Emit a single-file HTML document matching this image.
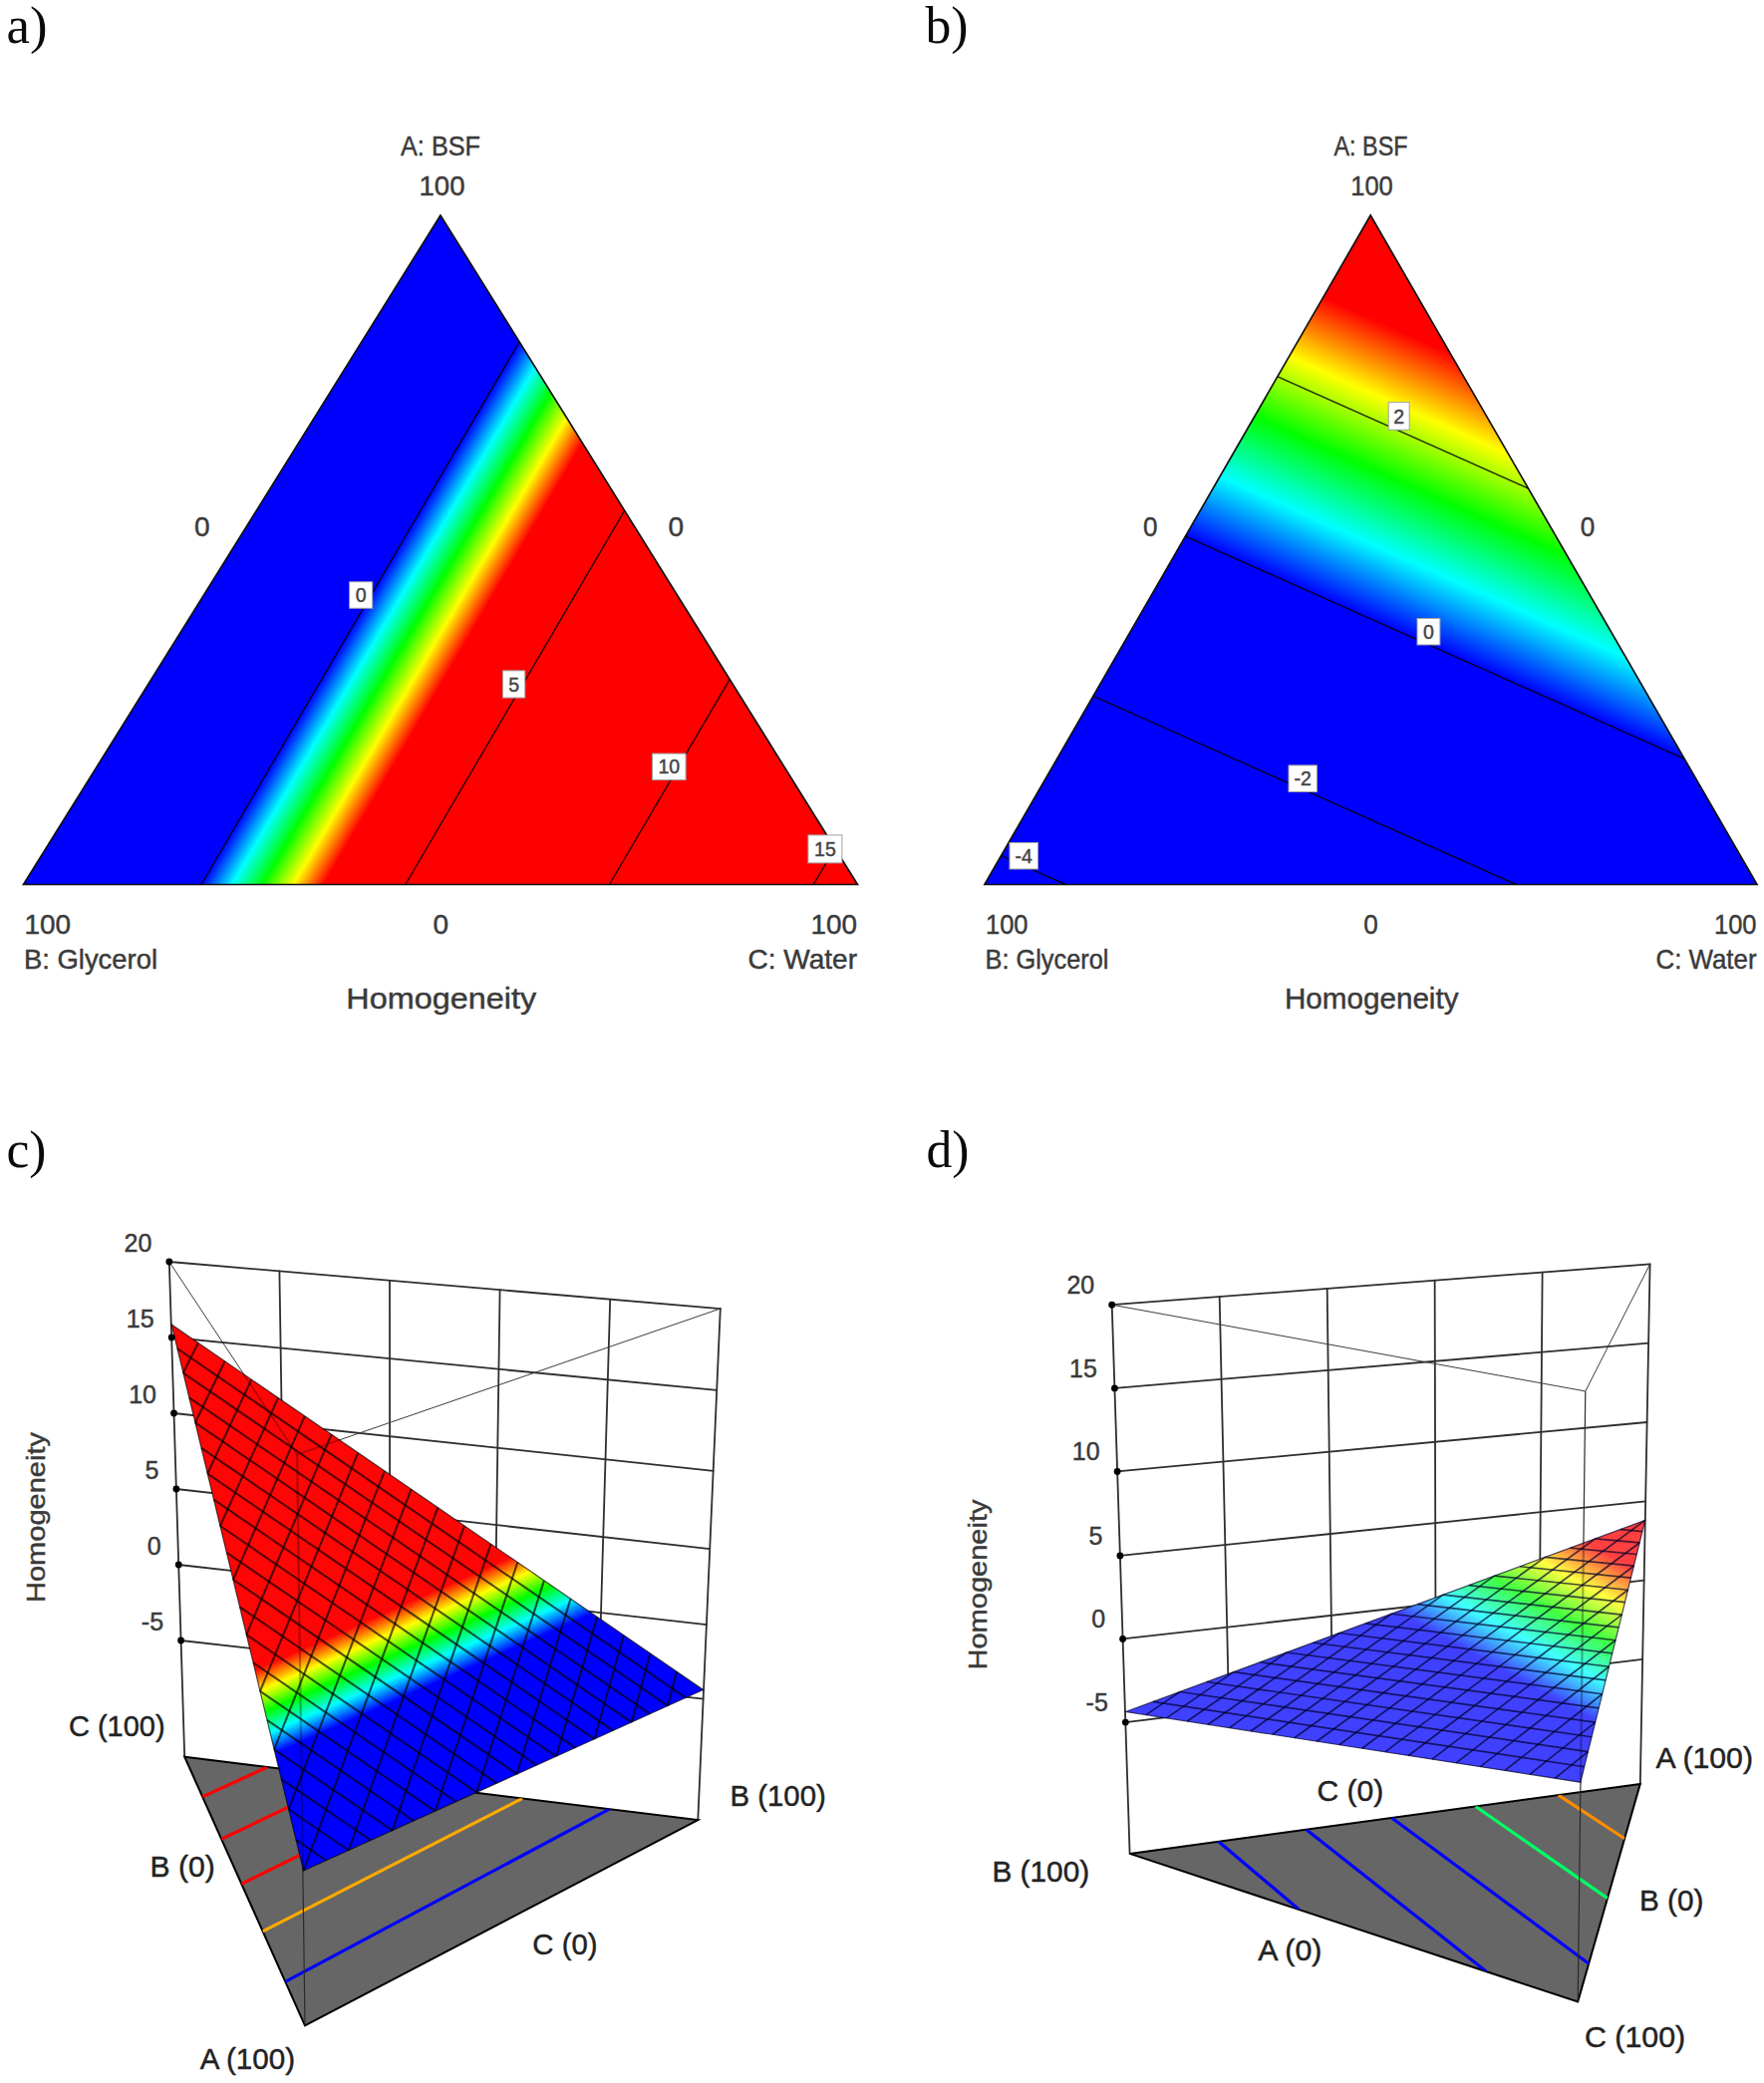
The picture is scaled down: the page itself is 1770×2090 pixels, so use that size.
<!DOCTYPE html>
<html lang="en"><head><meta charset="utf-8"><title>Homogeneity response surfaces</title>
<style>html,body{margin:0;padding:0;background:#fff}svg{display:block}</style></head><body>
<svg width="1770" height="2090" viewBox="0 0 1770 2090" role="img" aria-label="Homogeneity contour and 3D surface plots">
<rect width="1770" height="2090" fill="#fff"/>
<text x="6.5" y="43" font-size="52" text-anchor="start" fill="#0a0a0a" font-family='"Liberation Serif", "Times New Roman", serif' textLength="41" lengthAdjust="spacingAndGlyphs">a)</text>
<text x="928.5" y="43" font-size="52" text-anchor="start" fill="#0a0a0a" font-family='"Liberation Serif", "Times New Roman", serif' textLength="43" lengthAdjust="spacingAndGlyphs">b)</text>
<text x="6.5" y="1170.5" font-size="52" text-anchor="start" fill="#0a0a0a" font-family='"Liberation Serif", "Times New Roman", serif' textLength="40" lengthAdjust="spacingAndGlyphs">c)</text>
<text x="929.5" y="1170.5" font-size="52" text-anchor="start" fill="#0a0a0a" font-family='"Liberation Serif", "Times New Roman", serif' textLength="43" lengthAdjust="spacingAndGlyphs">d)</text>
<defs>
<linearGradient id="ag" gradientUnits="userSpaceOnUse" x1="361.02" y1="616.21" x2="452.47" y2="669.8">
<stop offset="0" stop-color="#0000ff"/>
<stop offset="0.25" stop-color="#00ffff"/>
<stop offset="0.5" stop-color="#00ff00"/>
<stop offset="0.75" stop-color="#ffff00"/>
<stop offset="1" stop-color="#ff0000"/>
</linearGradient>
<clipPath id="ac"><polygon points="442,216 23.5,887.5 860.5,887.5"/></clipPath>
</defs>
<polygon points="442,216 23.5,887.5 860.5,887.5" fill="url(#ag)" stroke="#111" stroke-width="1.7" stroke-linejoin="miter"/>
<g clip-path="url(#ac)" stroke="#000" stroke-opacity="0.85" stroke-width="1.4" fill="none">
<line x1="202.04" y1="887.5" x2="521.14" y2="342.99"/>
<line x1="406.78" y1="887.5" x2="626.66" y2="512.3"/>
<line x1="611.53" y1="887.5" x2="732.19" y2="681.61"/>
<line x1="816.27" y1="887.5" x2="837.71" y2="850.93"/>
</g>
<rect x="350.6" y="583.8" width="23.1" height="26.5" fill="#fff" stroke="#a0a0a0" stroke-width="1"/>
<text x="362.15" y="604.05" font-size="19.5" text-anchor="middle" fill="#444" stroke="#444" stroke-width="0.45" font-family='"Liberation Sans", Arial, sans-serif'>0</text>
<rect x="504.4" y="672.9" width="22.4" height="27.2" fill="#fff" stroke="#a0a0a0" stroke-width="1"/>
<text x="515.6" y="693.5" font-size="19.5" text-anchor="middle" fill="#444" stroke="#444" stroke-width="0.45" font-family='"Liberation Sans", Arial, sans-serif'>5</text>
<rect x="654.6" y="756.1" width="33.5" height="26.5" fill="#fff" stroke="#a0a0a0" stroke-width="1"/>
<text x="671.35" y="776.35" font-size="19.5" text-anchor="middle" fill="#444" stroke="#444" stroke-width="0.45" font-family='"Liberation Sans", Arial, sans-serif'>10</text>
<rect x="810.9" y="837.9" width="34" height="28" fill="#fff" stroke="#a0a0a0" stroke-width="1"/>
<text x="827.9" y="858.9" font-size="19.5" text-anchor="middle" fill="#444" stroke="#444" stroke-width="0.45" font-family='"Liberation Sans", Arial, sans-serif'>15</text>
<text x="442" y="156" font-size="28" text-anchor="middle" fill="#3a3a3a" stroke="#3a3a3a" stroke-width="0.45" font-family='"Liberation Sans", Arial, sans-serif' textLength="80" lengthAdjust="spacingAndGlyphs">A: BSF</text>
<text x="443.5" y="196" font-size="28" text-anchor="middle" fill="#3a3a3a" stroke="#3a3a3a" stroke-width="0.45" font-family='"Liberation Sans", Arial, sans-serif' textLength="46" lengthAdjust="spacingAndGlyphs">100</text>
<text x="202.7" y="538.4" font-size="28" text-anchor="middle" fill="#3a3a3a" stroke="#3a3a3a" stroke-width="0.45" font-family='"Liberation Sans", Arial, sans-serif'>0</text>
<text x="678.4" y="538.4" font-size="28" text-anchor="middle" fill="#3a3a3a" stroke="#3a3a3a" stroke-width="0.45" font-family='"Liberation Sans", Arial, sans-serif'>0</text>
<text x="24.5" y="936.5" font-size="28" text-anchor="start" fill="#3a3a3a" stroke="#3a3a3a" stroke-width="0.45" font-family='"Liberation Sans", Arial, sans-serif' textLength="46.5" lengthAdjust="spacingAndGlyphs">100</text>
<text x="24" y="972" font-size="28" text-anchor="start" fill="#3a3a3a" stroke="#3a3a3a" stroke-width="0.45" font-family='"Liberation Sans", Arial, sans-serif' textLength="134" lengthAdjust="spacingAndGlyphs">B: Glycerol</text>
<text x="442.3" y="936.5" font-size="28" text-anchor="middle" fill="#3a3a3a" stroke="#3a3a3a" stroke-width="0.45" font-family='"Liberation Sans", Arial, sans-serif'>0</text>
<text x="860" y="936.5" font-size="28" text-anchor="end" fill="#3a3a3a" stroke="#3a3a3a" stroke-width="0.45" font-family='"Liberation Sans", Arial, sans-serif' textLength="46.5" lengthAdjust="spacingAndGlyphs">100</text>
<text x="860" y="972" font-size="28" text-anchor="end" fill="#3a3a3a" stroke="#3a3a3a" stroke-width="0.45" font-family='"Liberation Sans", Arial, sans-serif' textLength="109.5" lengthAdjust="spacingAndGlyphs">C: Water</text>
<text x="442.7" y="1012.3" font-size="30" text-anchor="middle" fill="#3a3a3a" stroke="#3a3a3a" stroke-width="0.45" font-family='"Liberation Sans", Arial, sans-serif' textLength="190.8" lengthAdjust="spacingAndGlyphs">Homogeneity</text>
<defs>
<linearGradient id="bg" gradientUnits="userSpaceOnUse" x1="1391.22" y1="628.09" x2="1503.61" y2="375.99">
<stop offset="0" stop-color="#0000ff"/>
<stop offset="0.25" stop-color="#00ffff"/>
<stop offset="0.5" stop-color="#00ff00"/>
<stop offset="0.75" stop-color="#ffff00"/>
<stop offset="1" stop-color="#ff0000"/>
</linearGradient>
<clipPath id="bc"><polygon points="1375.2,216 987.9,887.5 1763,887.5"/></clipPath>
</defs>
<polygon points="1375.2,216 987.9,887.5 1763,887.5" fill="url(#bg)" stroke="#111" stroke-width="1.7" stroke-linejoin="miter"/>
<g clip-path="url(#bc)" stroke="#000" stroke-opacity="0.85" stroke-width="1.4" fill="none">
<line x1="1004.54" y1="858.65" x2="1069.25" y2="887.5"/>
<line x1="1096.97" y1="698.39" x2="1521.2" y2="887.5"/>
<line x1="1189.41" y1="538.13" x2="1690.14" y2="761.34"/>
<line x1="1281.84" y1="377.87" x2="1533.45" y2="490.03"/>
</g>
<rect x="1393.2" y="403.7" width="21" height="27.6" fill="#fff" stroke="#a0a0a0" stroke-width="1"/>
<text x="1403.7" y="424.5" font-size="19.5" text-anchor="middle" fill="#444" stroke="#444" stroke-width="0.45" font-family='"Liberation Sans", Arial, sans-serif'>2</text>
<rect x="1422" y="620.5" width="22.9" height="26.5" fill="#fff" stroke="#a0a0a0" stroke-width="1"/>
<text x="1433.45" y="640.75" font-size="19.5" text-anchor="middle" fill="#444" stroke="#444" stroke-width="0.45" font-family='"Liberation Sans", Arial, sans-serif'>0</text>
<rect x="1293" y="767.9" width="28.4" height="26.6" fill="#fff" stroke="#a0a0a0" stroke-width="1"/>
<text x="1307.2" y="788.2" font-size="19.5" text-anchor="middle" fill="#444" stroke="#444" stroke-width="0.45" font-family='"Liberation Sans", Arial, sans-serif'>-2</text>
<rect x="1013" y="845.5" width="28.5" height="26.5" fill="#fff" stroke="#a0a0a0" stroke-width="1"/>
<text x="1027.25" y="865.75" font-size="19.5" text-anchor="middle" fill="#444" stroke="#444" stroke-width="0.45" font-family='"Liberation Sans", Arial, sans-serif'>-4</text>
<text x="1375.5" y="156" font-size="28" text-anchor="middle" fill="#3a3a3a" stroke="#3a3a3a" stroke-width="0.45" font-family='"Liberation Sans", Arial, sans-serif' textLength="74" lengthAdjust="spacingAndGlyphs">A: BSF</text>
<text x="1376.5" y="196" font-size="28" text-anchor="middle" fill="#3a3a3a" stroke="#3a3a3a" stroke-width="0.45" font-family='"Liberation Sans", Arial, sans-serif' textLength="42.5" lengthAdjust="spacingAndGlyphs">100</text>
<text x="1154.3" y="538.4" font-size="28" text-anchor="middle" fill="#3a3a3a" stroke="#3a3a3a" stroke-width="0.45" font-family='"Liberation Sans", Arial, sans-serif' textLength="14.5" lengthAdjust="spacingAndGlyphs">0</text>
<text x="1593" y="538.4" font-size="28" text-anchor="middle" fill="#3a3a3a" stroke="#3a3a3a" stroke-width="0.45" font-family='"Liberation Sans", Arial, sans-serif' textLength="14.5" lengthAdjust="spacingAndGlyphs">0</text>
<text x="989" y="936.5" font-size="28" text-anchor="start" fill="#3a3a3a" stroke="#3a3a3a" stroke-width="0.45" font-family='"Liberation Sans", Arial, sans-serif' textLength="42.5" lengthAdjust="spacingAndGlyphs">100</text>
<text x="988.5" y="972" font-size="28" text-anchor="start" fill="#3a3a3a" stroke="#3a3a3a" stroke-width="0.45" font-family='"Liberation Sans", Arial, sans-serif' textLength="124" lengthAdjust="spacingAndGlyphs">B: Glycerol</text>
<text x="1375.5" y="936.5" font-size="28" text-anchor="middle" fill="#3a3a3a" stroke="#3a3a3a" stroke-width="0.45" font-family='"Liberation Sans", Arial, sans-serif' textLength="14.5" lengthAdjust="spacingAndGlyphs">0</text>
<text x="1762.5" y="936.5" font-size="28" text-anchor="end" fill="#3a3a3a" stroke="#3a3a3a" stroke-width="0.45" font-family='"Liberation Sans", Arial, sans-serif' textLength="42.5" lengthAdjust="spacingAndGlyphs">100</text>
<text x="1762.5" y="972" font-size="28" text-anchor="end" fill="#3a3a3a" stroke="#3a3a3a" stroke-width="0.45" font-family='"Liberation Sans", Arial, sans-serif' textLength="101" lengthAdjust="spacingAndGlyphs">C: Water</text>
<text x="1376.2" y="1012.3" font-size="30" text-anchor="middle" fill="#3a3a3a" stroke="#3a3a3a" stroke-width="0.45" font-family='"Liberation Sans", Arial, sans-serif' textLength="174.6" lengthAdjust="spacingAndGlyphs">Homogeneity</text>
<g id="c">
<g stroke="#2e2e2e" stroke-width="1.8" fill="none" stroke-linecap="round">
<line x1="169.8" y1="1266" x2="722.8" y2="1313.05"/>
<line x1="172.16" y1="1342" x2="719.21" y2="1394.9"/>
<line x1="174.51" y1="1418" x2="715.66" y2="1475.9"/>
<line x1="176.87" y1="1494" x2="712.22" y2="1554.2"/>
<line x1="179.23" y1="1570" x2="708.89" y2="1630.1"/>
<line x1="181.58" y1="1646" x2="705.62" y2="1704.7"/>
<line x1="280.4" y1="1275.41" x2="286.39" y2="1657.74"/>
<line x1="391" y1="1284.82" x2="391.2" y2="1669.48"/>
<line x1="501.6" y1="1294.23" x2="496.01" y2="1681.22"/>
<line x1="612.2" y1="1303.64" x2="600.82" y2="1692.96"/>
<line x1="169.8" y1="1266" x2="185.2" y2="1762.7"/>
<line x1="722.8" y1="1313" x2="700.3" y2="1826.1"/>
</g>
<g stroke="#3c3c3c" stroke-width="1" fill="none">
<line x1="169.8" y1="1266" x2="298.1" y2="1459.5"/>
<line x1="722.8" y1="1313" x2="298.1" y2="1459.5"/>
</g>
<polygon points="306,2032.4 700.3,1826.1 185.2,1762.7" fill="#666" stroke="#000" stroke-width="2" stroke-linejoin="miter"/>
<clipPath id="cfc"><polygon points="306,2032.4 700.3,1826.1 185.2,1762.7"/></clipPath>
<g clip-path="url(#cfc)" stroke-width="3.2" fill="none">
<line x1="268.4" y1="1772.94" x2="203.2" y2="1802.89" stroke="#ff0000"/>
<line x1="352.42" y1="1783.28" x2="222.17" y2="1845.24" stroke="#ff0000"/>
<line x1="437.78" y1="1793.79" x2="242.31" y2="1890.21" stroke="#ff0000"/>
<line x1="524.24" y1="1804.43" x2="263.67" y2="1937.89" stroke="#ffaa00"/>
<line x1="611.56" y1="1815.18" x2="286.29" y2="1988.39" stroke="#0000ff"/>
</g>
<line x1="298.1" y1="1459.5" x2="306" y2="2032.4" stroke="#2b2b2b" stroke-width="1.2"/>
<defs>
<linearGradient id="cg" gradientUnits="userSpaceOnUse" x1="426.69" y1="1693.04" x2="392.44" y2="1615.39">
<stop offset="0" stop-color="#0000ff"/>
<stop offset="0.25" stop-color="#00ffff"/>
<stop offset="0.5" stop-color="#00ff00"/>
<stop offset="0.75" stop-color="#ffff00"/>
<stop offset="1" stop-color="#ff0606"/>
</linearGradient>
</defs>
<clipPath id="csc"><polygon points="304.5,1877 705.6,1695.5 172.1,1329"/></clipPath>
<polygon points="304.5,1877 705.6,1695.5 172.1,1329" fill="url(#cg)" stroke="none"/>
<g clip-path="url(#csc)" stroke="#000" stroke-opacity="0.3"><line x1="298.1" y1="1459.5" x2="306" y2="2032.4" stroke-width="2.2"/><line x1="169.8" y1="1266" x2="298.1" y2="1459.5" stroke-width="1.6"/><line x1="722.8" y1="1313" x2="298.1" y2="1459.5" stroke-width="1.6"/></g>
<g stroke="#000" stroke-opacity="0.66" stroke-width="2.1" fill="none">
<line x1="687.99" y1="1703.47" x2="177.93" y2="1353.15"/>
<line x1="670.14" y1="1711.54" x2="183.84" y2="1377.59"/>
<line x1="652.07" y1="1719.72" x2="189.82" y2="1402.35"/>
<line x1="633.76" y1="1728.01" x2="195.88" y2="1427.43"/>
<line x1="615.21" y1="1736.4" x2="202.02" y2="1452.82"/>
<line x1="596.42" y1="1744.91" x2="208.23" y2="1478.55"/>
<line x1="577.37" y1="1753.52" x2="214.53" y2="1504.61"/>
<line x1="558.07" y1="1762.26" x2="220.91" y2="1531"/>
<line x1="538.51" y1="1771.11" x2="227.37" y2="1557.75"/>
<line x1="518.68" y1="1780.08" x2="233.91" y2="1584.85"/>
<line x1="498.58" y1="1789.18" x2="240.55" y2="1612.31"/>
<line x1="478.21" y1="1798.4" x2="247.27" y2="1640.14"/>
<line x1="457.55" y1="1807.75" x2="254.09" y2="1668.35"/>
<line x1="436.6" y1="1817.22" x2="261" y2="1696.94"/>
<line x1="415.36" y1="1826.84" x2="268" y2="1725.92"/>
<line x1="393.81" y1="1836.58" x2="275.1" y2="1755.3"/>
<line x1="371.96" y1="1846.47" x2="282.29" y2="1785.09"/>
<line x1="349.8" y1="1856.5" x2="289.59" y2="1815.3"/>
<line x1="327.31" y1="1866.68" x2="296.99" y2="1845.93"/>
<line x1="679.01" y1="1677.24" x2="670.14" y2="1711.54"/>
<line x1="652.42" y1="1658.96" x2="633.76" y2="1728.01"/>
<line x1="625.81" y1="1640.69" x2="596.42" y2="1744.91"/>
<line x1="599.2" y1="1622.4" x2="558.07" y2="1762.26"/>
<line x1="572.57" y1="1604.11" x2="518.68" y2="1780.08"/>
<line x1="545.94" y1="1585.82" x2="478.21" y2="1798.4"/>
<line x1="519.3" y1="1567.51" x2="436.6" y2="1817.22"/>
<line x1="492.64" y1="1549.21" x2="393.81" y2="1836.58"/>
<line x1="465.98" y1="1530.89" x2="349.8" y2="1856.5"/>
<line x1="439.31" y1="1512.57" x2="304.5" y2="1877"/>
<line x1="412.63" y1="1494.24" x2="289.59" y2="1815.3"/>
<line x1="385.94" y1="1475.91" x2="275.1" y2="1755.3"/>
<line x1="359.25" y1="1457.56" x2="261" y2="1696.94"/>
<line x1="332.54" y1="1439.22" x2="247.27" y2="1640.14"/>
<line x1="305.82" y1="1420.86" x2="233.91" y2="1584.85"/>
<line x1="279.1" y1="1402.5" x2="220.91" y2="1531"/>
<line x1="252.36" y1="1384.14" x2="208.23" y2="1478.55"/>
<line x1="225.62" y1="1365.76" x2="195.88" y2="1427.43"/>
<line x1="198.86" y1="1347.39" x2="183.84" y2="1377.59"/>
<polygon points="304.5,1877 705.6,1695.5 172.1,1329" stroke-width="1.2"/>
</g>
<g fill="#000">
<circle cx="169.8" cy="1266" r="3.4"/>
<circle cx="172.16" cy="1342" r="3.4"/>
<circle cx="174.51" cy="1418" r="3.4"/>
<circle cx="176.87" cy="1494" r="3.4"/>
<circle cx="179.23" cy="1570" r="3.4"/>
<circle cx="181.58" cy="1646" r="3.4"/>
</g>
<text x="152.3" y="1256" font-size="25" text-anchor="end" fill="#3a3a3a" stroke="#3a3a3a" stroke-width="0.45" font-family='"Liberation Sans", Arial, sans-serif'>20</text>
<text x="154.66" y="1332" font-size="25" text-anchor="end" fill="#3a3a3a" stroke="#3a3a3a" stroke-width="0.45" font-family='"Liberation Sans", Arial, sans-serif'>15</text>
<text x="157.01" y="1408" font-size="25" text-anchor="end" fill="#3a3a3a" stroke="#3a3a3a" stroke-width="0.45" font-family='"Liberation Sans", Arial, sans-serif'>10</text>
<text x="159.37" y="1484" font-size="25" text-anchor="end" fill="#3a3a3a" stroke="#3a3a3a" stroke-width="0.45" font-family='"Liberation Sans", Arial, sans-serif'>5</text>
<text x="161.73" y="1560" font-size="25" text-anchor="end" fill="#3a3a3a" stroke="#3a3a3a" stroke-width="0.45" font-family='"Liberation Sans", Arial, sans-serif'>0</text>
<text x="164.08" y="1636" font-size="25" text-anchor="end" fill="#3a3a3a" stroke="#3a3a3a" stroke-width="0.45" font-family='"Liberation Sans", Arial, sans-serif'>-5</text>
</g>
<text transform="translate(44.5,1522.5) rotate(-90)" font-size="26" text-anchor="middle" fill="#3a3a3a" stroke="#3a3a3a" stroke-width="0.45" font-family='"Liberation Sans", Arial, sans-serif' textLength="171" lengthAdjust="spacingAndGlyphs">Homogeneity</text>
<text x="69" y="1741.5" font-size="29.5" text-anchor="start" fill="#222" stroke="#222" stroke-width="0.45" font-family='"Liberation Sans", Arial, sans-serif' textLength="96.6" lengthAdjust="spacingAndGlyphs">C (100)</text>
<text x="150.5" y="1883.1" font-size="29.5" text-anchor="start" fill="#222" stroke="#222" stroke-width="0.45" font-family='"Liberation Sans", Arial, sans-serif' textLength="65.2" lengthAdjust="spacingAndGlyphs">B (0)</text>
<text x="200.7" y="2076.2" font-size="29.5" text-anchor="start" fill="#222" stroke="#222" stroke-width="0.45" font-family='"Liberation Sans", Arial, sans-serif' textLength="95.3" lengthAdjust="spacingAndGlyphs">A (100)</text>
<text x="534.3" y="1960.8" font-size="29.5" text-anchor="start" fill="#222" stroke="#222" stroke-width="0.45" font-family='"Liberation Sans", Arial, sans-serif' textLength="65.2" lengthAdjust="spacingAndGlyphs">C (0)</text>
<text x="732.5" y="1811.8" font-size="29.5" text-anchor="start" fill="#222" stroke="#222" stroke-width="0.45" font-family='"Liberation Sans", Arial, sans-serif' textLength="96.3" lengthAdjust="spacingAndGlyphs">B (100)</text>
<g id="d">
<g stroke="#2e2e2e" stroke-width="1.8" fill="none" stroke-linecap="round">
<line x1="1115.7" y1="1309.2" x2="1655.6" y2="1268.4"/>
<line x1="1118.42" y1="1392.9" x2="1654.11" y2="1347.7"/>
<line x1="1121.13" y1="1476.4" x2="1652.62" y2="1427"/>
<line x1="1123.88" y1="1560.9" x2="1651.13" y2="1506.3"/>
<line x1="1126.6" y1="1644.4" x2="1649.64" y2="1585.6"/>
<line x1="1129.32" y1="1728.1" x2="1648.15" y2="1664.9"/>
<line x1="1223.68" y1="1301.04" x2="1233.08" y2="1715.46"/>
<line x1="1331.66" y1="1292.88" x2="1336.85" y2="1702.82"/>
<line x1="1439.64" y1="1284.72" x2="1440.62" y2="1690.18"/>
<line x1="1547.62" y1="1276.56" x2="1544.38" y2="1677.54"/>
<line x1="1115.7" y1="1309.2" x2="1133.6" y2="1859.9"/>
<line x1="1655.6" y1="1268.4" x2="1645.8" y2="1789.9"/>
</g>
<g stroke="#3c3c3c" stroke-width="1" fill="none">
<line x1="1115.7" y1="1309.2" x2="1590.8" y2="1395.9"/>
<line x1="1655.6" y1="1268.4" x2="1590.8" y2="1395.9"/>
</g>
<polygon points="1645.8,1789.9 1133.6,1859.9 1583.2,2008.5" fill="#666" stroke="#000" stroke-width="2" stroke-linejoin="miter"/>
<clipPath id="dfc"><polygon points="1645.8,1789.9 1133.6,1859.9 1583.2,2008.5"/></clipPath>
<g clip-path="url(#dfc)" stroke-width="3.2" fill="none">
<line x1="1222.76" y1="1847.71" x2="1303.53" y2="1916.06" stroke="#0000ff"/>
<line x1="1310.81" y1="1835.68" x2="1491.21" y2="1978.1" stroke="#0000ff"/>
<line x1="1396.54" y1="1823.97" x2="1594.16" y2="1970.23" stroke="#0000ff"/>
<line x1="1480.63" y1="1812.47" x2="1612.94" y2="1904.64" stroke="#00ff66"/>
<line x1="1563.71" y1="1801.12" x2="1630.09" y2="1844.77" stroke="#ff8c00"/>
</g>
<line x1="1590.8" y1="1395.9" x2="1583.2" y2="2008.5" stroke="#2b2b2b" stroke-width="1.2"/>
<defs>
<linearGradient id="dg" gradientUnits="userSpaceOnUse" x1="1521.79" y1="1683.69" x2="1595.45" y2="1549.8">
<stop offset="0" stop-color="#4040ff"/>
<stop offset="0.25" stop-color="#40ffff"/>
<stop offset="0.5" stop-color="#40ff40"/>
<stop offset="0.75" stop-color="#ffff40"/>
<stop offset="1" stop-color="#ff4040"/>
</linearGradient>
</defs>
<clipPath id="dsc"><polygon points="1650.7,1525.4 1129.6,1717.5 1585.9,1788.2"/></clipPath>
<polygon points="1650.7,1525.4 1129.6,1717.5 1585.9,1788.2" fill="url(#dg)" stroke="none"/>
<g clip-path="url(#dsc)" stroke="#000" stroke-opacity="0.3"><line x1="1590.8" y1="1395.9" x2="1583.2" y2="2008.5" stroke-width="2.2"/><line x1="1115.7" y1="1309.2" x2="1590.8" y2="1395.9" stroke-width="1.6"/><line x1="1655.6" y1="1268.4" x2="1590.8" y2="1395.9" stroke-width="1.6"/></g>
<g stroke="#00002a" stroke-opacity="0.7" stroke-width="1.7" fill="none">
<line x1="1156.83" y1="1707.46" x2="1589.7" y2="1772.78"/>
<line x1="1183.93" y1="1697.47" x2="1593.43" y2="1757.64"/>
<line x1="1210.9" y1="1687.53" x2="1597.1" y2="1742.78"/>
<line x1="1237.74" y1="1677.63" x2="1600.7" y2="1728.17"/>
<line x1="1264.46" y1="1667.78" x2="1604.24" y2="1713.83"/>
<line x1="1291.06" y1="1657.98" x2="1607.71" y2="1699.73"/>
<line x1="1317.52" y1="1648.22" x2="1611.13" y2="1685.88"/>
<line x1="1343.87" y1="1638.51" x2="1614.49" y2="1672.27"/>
<line x1="1370.09" y1="1628.84" x2="1617.79" y2="1658.88"/>
<line x1="1396.2" y1="1619.22" x2="1621.03" y2="1645.73"/>
<line x1="1422.18" y1="1609.64" x2="1624.22" y2="1632.79"/>
<line x1="1448.04" y1="1600.11" x2="1627.36" y2="1620.06"/>
<line x1="1473.78" y1="1590.62" x2="1630.44" y2="1607.55"/>
<line x1="1499.4" y1="1581.18" x2="1633.48" y2="1595.24"/>
<line x1="1524.91" y1="1571.77" x2="1636.47" y2="1583.13"/>
<line x1="1550.3" y1="1562.41" x2="1639.4" y2="1571.21"/>
<line x1="1575.57" y1="1553.1" x2="1642.3" y2="1559.49"/>
<line x1="1600.73" y1="1543.82" x2="1645.14" y2="1547.95"/>
<line x1="1625.77" y1="1534.59" x2="1647.94" y2="1536.58"/>
<line x1="1149.9" y1="1720.65" x2="1183.93" y2="1697.47"/>
<line x1="1170.44" y1="1723.83" x2="1237.74" y2="1677.63"/>
<line x1="1191.22" y1="1727.05" x2="1291.06" y2="1657.98"/>
<line x1="1212.24" y1="1730.3" x2="1343.87" y2="1638.51"/>
<line x1="1233.51" y1="1733.6" x2="1396.2" y2="1619.22"/>
<line x1="1255.04" y1="1736.94" x2="1448.04" y2="1600.11"/>
<line x1="1276.83" y1="1740.31" x2="1499.4" y2="1581.18"/>
<line x1="1298.88" y1="1743.73" x2="1550.3" y2="1562.41"/>
<line x1="1321.2" y1="1747.19" x2="1600.73" y2="1543.82"/>
<line x1="1343.79" y1="1750.69" x2="1650.7" y2="1525.4"/>
<line x1="1366.66" y1="1754.23" x2="1645.14" y2="1547.95"/>
<line x1="1389.81" y1="1757.82" x2="1639.4" y2="1571.21"/>
<line x1="1413.25" y1="1761.45" x2="1633.48" y2="1595.24"/>
<line x1="1436.99" y1="1765.13" x2="1627.36" y2="1620.06"/>
<line x1="1461.02" y1="1768.85" x2="1621.03" y2="1645.73"/>
<line x1="1485.36" y1="1772.62" x2="1614.49" y2="1672.27"/>
<line x1="1510.02" y1="1776.44" x2="1607.71" y2="1699.73"/>
<line x1="1534.98" y1="1780.31" x2="1600.7" y2="1728.17"/>
<line x1="1560.28" y1="1784.23" x2="1593.43" y2="1757.64"/>
<polygon points="1650.7,1525.4 1129.6,1717.5 1585.9,1788.2" stroke-width="1.2"/>
</g>
<g fill="#000">
<circle cx="1115.7" cy="1309.2" r="3.4"/>
<circle cx="1118.42" cy="1392.9" r="3.4"/>
<circle cx="1121.13" cy="1476.4" r="3.4"/>
<circle cx="1123.88" cy="1560.9" r="3.4"/>
<circle cx="1126.6" cy="1644.4" r="3.4"/>
<circle cx="1129.32" cy="1728.1" r="3.4"/>
</g>
<text x="1098.2" y="1298.2" font-size="25" text-anchor="end" fill="#3a3a3a" stroke="#3a3a3a" stroke-width="0.45" font-family='"Liberation Sans", Arial, sans-serif'>20</text>
<text x="1100.92" y="1381.9" font-size="25" text-anchor="end" fill="#3a3a3a" stroke="#3a3a3a" stroke-width="0.45" font-family='"Liberation Sans", Arial, sans-serif'>15</text>
<text x="1103.63" y="1465.4" font-size="25" text-anchor="end" fill="#3a3a3a" stroke="#3a3a3a" stroke-width="0.45" font-family='"Liberation Sans", Arial, sans-serif'>10</text>
<text x="1106.38" y="1549.9" font-size="25" text-anchor="end" fill="#3a3a3a" stroke="#3a3a3a" stroke-width="0.45" font-family='"Liberation Sans", Arial, sans-serif'>5</text>
<text x="1109.1" y="1633.4" font-size="25" text-anchor="end" fill="#3a3a3a" stroke="#3a3a3a" stroke-width="0.45" font-family='"Liberation Sans", Arial, sans-serif'>0</text>
<text x="1111.82" y="1717.1" font-size="25" text-anchor="end" fill="#3a3a3a" stroke="#3a3a3a" stroke-width="0.45" font-family='"Liberation Sans", Arial, sans-serif'>-5</text>
</g>
<text transform="translate(990,1590) rotate(-90)" font-size="26" text-anchor="middle" fill="#3a3a3a" stroke="#3a3a3a" stroke-width="0.45" font-family='"Liberation Sans", Arial, sans-serif' textLength="171" lengthAdjust="spacingAndGlyphs">Homogeneity</text>
<text x="1661.6" y="1774.2" font-size="29.5" text-anchor="start" fill="#222" stroke="#222" stroke-width="0.45" font-family='"Liberation Sans", Arial, sans-serif' textLength="97.4" lengthAdjust="spacingAndGlyphs">A (100)</text>
<text x="1321.5" y="1806.8" font-size="29.5" text-anchor="start" fill="#222" stroke="#222" stroke-width="0.45" font-family='"Liberation Sans", Arial, sans-serif' textLength="66.7" lengthAdjust="spacingAndGlyphs">C (0)</text>
<text x="995.4" y="1888.1" font-size="29.5" text-anchor="start" fill="#222" stroke="#222" stroke-width="0.45" font-family='"Liberation Sans", Arial, sans-serif' textLength="97.8" lengthAdjust="spacingAndGlyphs">B (100)</text>
<text x="1645" y="1917.2" font-size="29.5" text-anchor="start" fill="#222" stroke="#222" stroke-width="0.45" font-family='"Liberation Sans", Arial, sans-serif' textLength="64.3" lengthAdjust="spacingAndGlyphs">B (0)</text>
<text x="1262.3" y="1967.3" font-size="29.5" text-anchor="start" fill="#222" stroke="#222" stroke-width="0.45" font-family='"Liberation Sans", Arial, sans-serif' textLength="64.2" lengthAdjust="spacingAndGlyphs">A (0)</text>
<text x="1589.9" y="2053.6" font-size="29.5" text-anchor="start" fill="#222" stroke="#222" stroke-width="0.45" font-family='"Liberation Sans", Arial, sans-serif' textLength="101.3" lengthAdjust="spacingAndGlyphs">C (100)</text>
</svg></body></html>
